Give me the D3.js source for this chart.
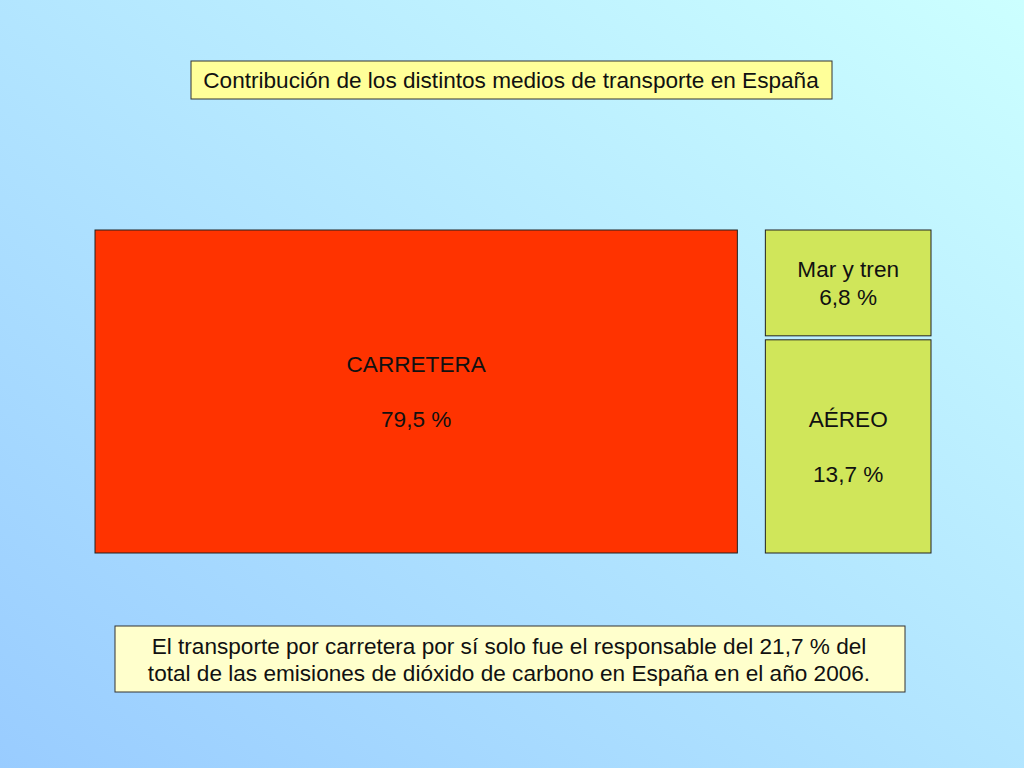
<!DOCTYPE html>
<html>
<head>
<meta charset="utf-8">
<script src="https://cdn.jsdelivr.net/npm/d3@7"></script>
<style>
body { margin: 0; padding: 0; overflow: hidden; }
text { font-family: "Liberation Sans", Arial, sans-serif; fill: #111; }
</style>
</head>
<body>
<script>
// data
var categories = ["CARRETERA", "Mar y tren", "AÉREO"];
var values = [79.5, 6.8, 13.7];
var valueLabels = ["79,5 %", "6,8 %", "13,7 %"];
var colors = ["#ff3300", "#d0e65a", "#d0e65a"];

var title = "Contribución de los distintos medios de transporte en España";
var note = ["El transporte por carretera por sí solo fue el responsable del 21,7 % del",
            "total de las emisiones de dióxido de carbono en España en el año 2006."];

var width = 1024;
var height = 768;
var fontSize = "22.6px";

var svg = d3.select("body")
	.append("svg")
	.attr("width", width)
	.attr("height", height);

var defs = svg.append("defs");
var grad = defs.append("linearGradient")
	.attr("id", "bg")
	.attr("x1", "0%").attr("y1", "100%")
	.attr("x2", "100%").attr("y2", "0%");
grad.append("stop").attr("offset", "0%").attr("stop-color", "#99ccff");
grad.append("stop").attr("offset", "100%").attr("stop-color", "#ccffff");

svg.append("rect")
	.attr("width", width)
	.attr("height", height)
	.style("fill", "url(#bg)");

// title box
svg.append("rect")
	.attr("x", 191).attr("y", 61)
	.attr("width", 641).attr("height", 38)
	.style("fill", "#ffff99")
	.style("stroke", "#333")
	.style("stroke-width", 1);
svg.append("text")
	.attr("x", 511).attr("y", 88)
	.attr("text-anchor", "middle")
	.style("font-size", fontSize)
	.text(title);

// layout: left block for road, right column split between the other two
var left0 = 95, top0 = 230, gap = 28, innerGap = 4, blockH = 323;
var total = d3.sum(values);
var rest = values[1] + values[2];

var x = d3.scaleLinear().domain([0, total]).range([0, 808]);
var y = d3.scaleLinear().domain([0, rest]).range([0, blockH - innerGap]);

var boxes = [
	{ x: left0, y: top0, w: x(values[0]), h: blockH },
	{ x: left0 + x(values[0]) + gap, y: top0, w: x(rest), h: y(values[1]) },
	{ x: left0 + x(values[0]) + gap, y: top0 + y(values[1]) + innerGap, w: x(rest), h: y(values[2]) }
];

var cells = svg.selectAll("g.cell")
	.data(categories)
	.enter()
	.append("g")
	.attr("class", "cell");

cells.append("rect")
	.attr("x", function(d, i) { return boxes[i].x })
	.attr("y", function(d, i) { return boxes[i].y })
	.attr("width", function(d, i) { return boxes[i].w })
	.attr("height", function(d, i) { return boxes[i].h })
	.style("fill", function(d, i) { return colors[i] })
	.style("stroke", "#222")
	.style("stroke-width", 1);

// labels: name, (blank line for the big ones), value
cells.each(function(d, i) {
	var b = boxes[i];
	var lines = i === 1 ? [d, valueLabels[i]] : [d, "", valueLabels[i]];
	var lh = 27.5;
	var cx = b.x + b.w / 2;
	var cy = b.y + b.h / 2;
	var startY = cy - (lines.length - 1) * lh / 2 + 8;
	var t = d3.select(this).append("text")
		.attr("text-anchor", "middle")
		.style("font-size", fontSize);
	lines.forEach(function(l, k) {
		if (l === "") return;
		t.append("tspan")
			.attr("x", cx)
			.attr("y", startY + k * lh)
			.text(l);
	});
});

// note box
svg.append("rect")
	.attr("x", 115).attr("y", 626)
	.attr("width", 790).attr("height", 66)
	.style("fill", "#ffffcc")
	.style("stroke", "#333")
	.style("stroke-width", 1);
svg.append("text")
	.attr("text-anchor", "middle")
	.style("font-size", fontSize)
	.selectAll("tspan")
	.data(note)
	.enter()
	.append("tspan")
	.attr("x", 509)
	.attr("y", function(d, i) { return 654 + i * 27 })
	.text(function(d) { return d });
</script>
</body>
</html>
